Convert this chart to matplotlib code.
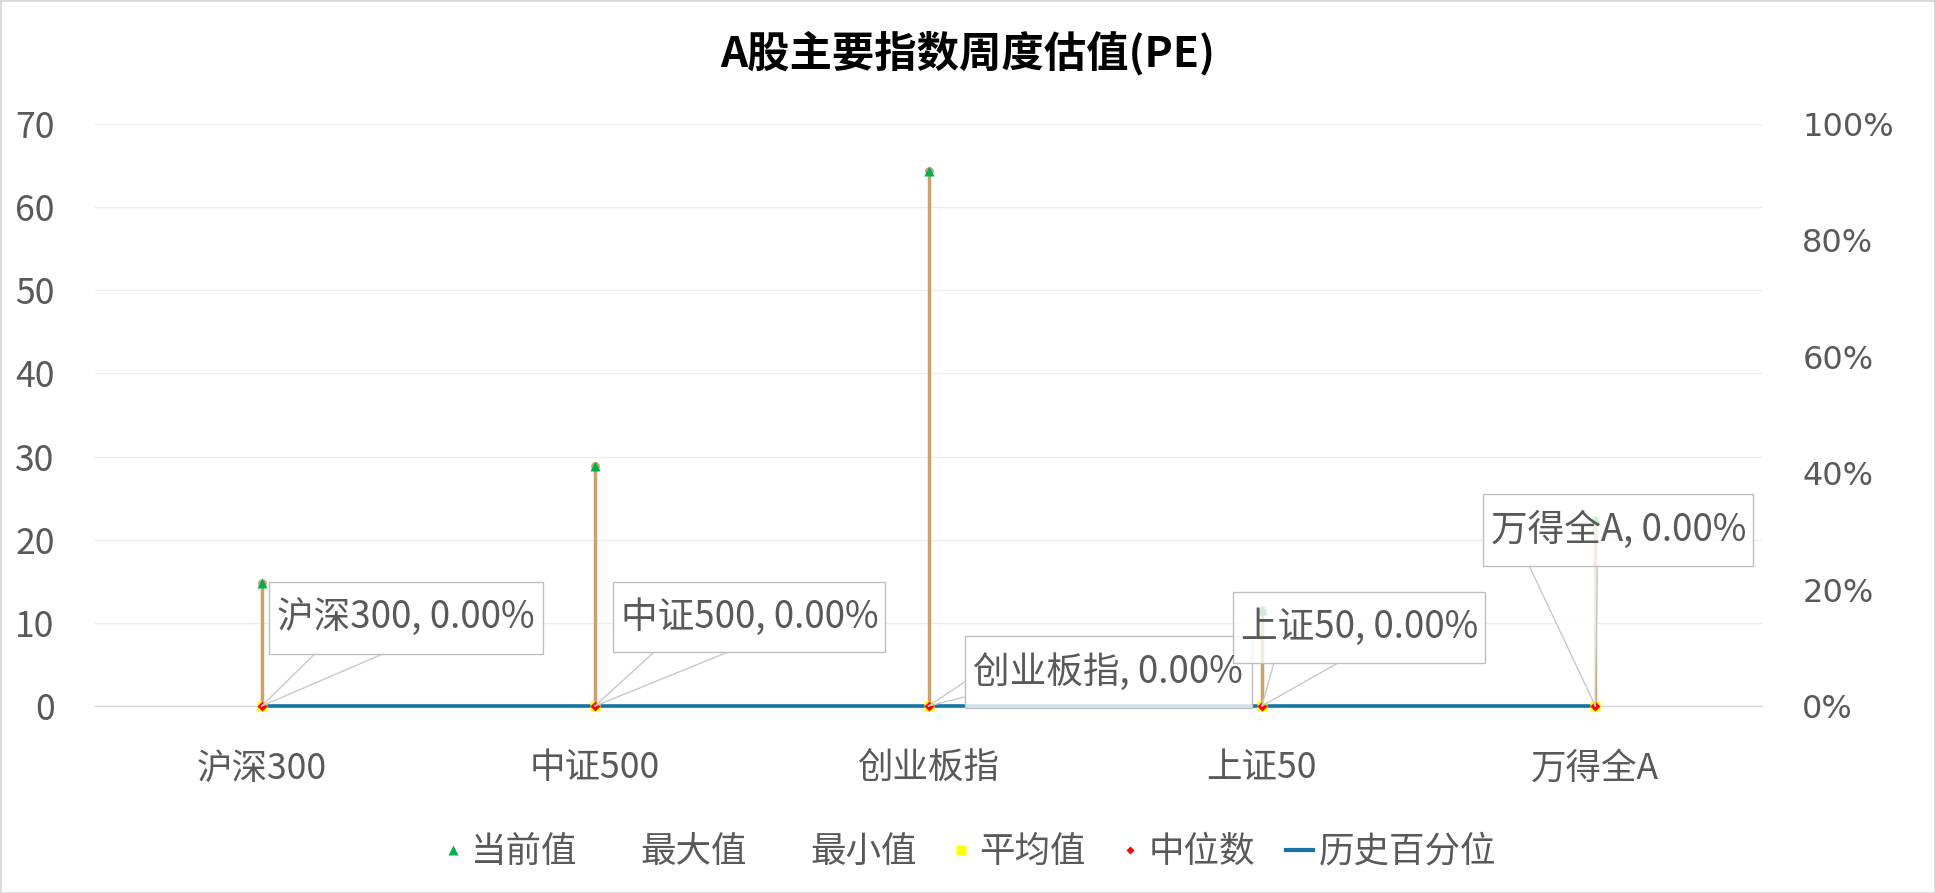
import numpy as np
import matplotlib
matplotlib.use("Agg")
import matplotlib.pyplot as plt
import matplotlib.transforms as mtransforms
from matplotlib.patches import Rectangle, Polygon
from matplotlib.lines import Line2D
from matplotlib.ticker import PercentFormatter

plt.rcParams['font.family'] = ['Noto Sans CJK SC', 'DejaVu Sans']

# ---- data ----
categories = ['沪深300', '中证500', '创业板指', '上证50', '万得全A']
current_pe = [14.8, 28.9, 64.4, 11.6, 22.4]
max_pe = [np.nan, np.nan, np.nan, np.nan, np.nan]
min_pe = [np.nan, np.nan, np.nan, np.nan, np.nan]
mean_pe = [0, 0, 0, 0, 0]
median_pe = [0, 0, 0, 0, 0]
hist_pct = [0.0, 0.0, 0.0, 0.0, 0.0]
left_ticks = [0, 10, 20, 30, 40, 50, 60, 70]
right_ticks = [0, 0.2, 0.4, 0.6, 0.8, 1.0]
title = 'A股主要指数周度估值(PE)'
series_names = ['当前值', '最大值', '最小值', '平均值', '中位数', '历史百分位']

# ---- style ----
TAN = '#C8A36A'
GREEN = '#00B050'
YELLOW = '#FFFF00'
RED = '#FF0000'
BLUE = '#1474A4'
TXT = '#595959'
FS = 25.6

W, H = 1935, 893
fig = plt.figure(figsize=(W / 100, H / 100), dpi=100)
ax = fig.add_axes([95 / W, (H - 706) / H, (1762 - 95) / W, (706 - 124) / H])
ax2 = ax.twinx()
ax.set_zorder(ax2.get_zorder() + 1)
ax.patch.set_visible(False)

x = np.arange(len(categories))
ax.set_xlim(-0.5, len(categories) - 0.5)
ax.set_ylim(0, 70)
ax2.set_ylim(0, 1)
ax.set_yticks(left_ticks)
ax2.set_yticks(right_ticks)
ax2.yaxis.set_major_formatter(PercentFormatter(1.0, decimals=0))
ax.set_xticks(x)
ax.set_xticklabels(categories)

ax.yaxis.grid(True, color='#EDEDED', lw=1)
ax.set_axisbelow(True)
for s in ax.spines.values():
    s.set_visible(False)
for s in ax2.spines.values():
    s.set_visible(False)
ax.spines['bottom'].set_visible(True)
ax.spines['bottom'].set_color('#D9D9D9')
ax.spines['bottom'].set_linewidth(1)

ax.tick_params(axis='y', length=0, pad=29, labelsize=FS, labelcolor=TXT)
ax.tick_params(axis='x', length=0, pad=32, labelsize=FS, labelcolor=TXT)
ax2.tick_params(axis='y', length=0, pad=29, labelsize=23, labelcolor=TXT)
for lab in ax2.get_yticklabels():
    lab.set_fontfamily('DejaVu Sans')

# percentile line (secondary-axis scale, drawn above the axis line)
ax.plot(x, hist_pct, color=BLUE, lw=2.6, zorder=4, solid_capstyle='butt',
        transform=ax2.transData, clip_on=False)

# high-low lines
all_series = np.array([current_pe, max_pe, min_pe, mean_pe, median_pe], dtype=float)
lo = np.nanmin(all_series, axis=0)
hi = np.nanmax(all_series, axis=0)
vl = ax.vlines(x, lo, hi, color=TAN, lw=2.5, zorder=3)
vl.set_capstyle('round')
ax.plot(x, hi, ls='none', marker='o', ms=6.3, color=TAN, mec='none', zorder=3)

# series markers
ax.plot(x, current_pe, ls='none', marker='^', ms=7, color=GREEN, mec='none', zorder=5)
ax.plot(x, max_pe, ls='none', marker='none', zorder=5)
ax.plot(x, min_pe, ls='none', marker='none', zorder=5)
ax.plot(x, mean_pe, ls='none', marker='s', ms=6.5, color=YELLOW, mec='none', zorder=5, clip_on=False)
ax.plot(x, median_pe, ls='none', marker='D', ms=4.8, color=RED, mec='none', zorder=6, clip_on=False)

# callout labels for percentile series (offsets in px from the point, y up)
callouts = [
    ((7, 281, 52, 124), [(53, 52), (121, 52)]),
    ((18, 290, 54, 124), [(59, 54), (133, 54)]),
    ((36, 323, -2, 70), [(36, 24), (36, 9)]),
    ((-29, 223, 43, 114), [(12, 43), (76, 43)]),
    ((-112, 158, 140, 212), [(-66, 140), (2, 140)]),
]
for i, ((x0, x1, y0, y1), bases) in enumerate(callouts):
    tr = mtransforms.Affine2D().scale(fig.dpi / 100) + \
        mtransforms.ScaledTranslation(x[i], hist_pct[i], ax2.transData)
    wedge = Polygon([bases[0], (0, 0), bases[1]], closed=True, transform=tr,
                    fc=(1, 1, 1, 0.8), ec='none', zorder=9, clip_on=False)
    ax.add_artist(wedge)
    for b in bases:
        ax.add_artist(Line2D([0, b[0]], [0, b[1]], transform=tr, color='#C8C8C8',
                             lw=1, zorder=9.5, clip_on=False))
    rect = Rectangle((x0, y0), x1 - x0, y1 - y0, transform=tr, fc=(1, 1, 1, 0.8),
                     ec='#BFBFBF', lw=1, zorder=10, clip_on=False)
    ax.add_artist(rect)
    ax.text(x0 + 8, (y0 + y1) / 2, f'{categories[i]}, {hist_pct[i]:.2%}', transform=tr,
            ha='left', va='center', fontsize=26.4, color=TXT, zorder=11, clip_on=False)

# title
fig.text(0.5, 1 - 53 / H, title, ha='center', va='center', fontsize=30.5,
         fontweight='bold', color='black')

# legend
handles = [
    Line2D([], [], ls='none', marker='^', ms=6.5, color=GREEN, mec='none'),
    Line2D([], [], ls='none', marker='none'),
    Line2D([], [], ls='none', marker='none'),
    Line2D([], [], ls='none', marker='s', ms=6.5, color=YELLOW, mec='none'),
    Line2D([], [], ls='none', marker='D', ms=4.5, color=RED, mec='none'),
    Line2D([], [], color=BLUE, lw=3),
]
fig.legend(handles, series_names, loc='center', bbox_to_anchor=(0.5, 1 - 852 / H),
           ncol=6, frameon=False, fontsize=FS, labelcolor=TXT, handlelength=0.75,
           handletextpad=0.15, columnspacing=0.87, borderpad=0)

# figure border
fig.patches.append(Rectangle((0, 0), 1, 1, transform=fig.transFigure, fill=False,
                             ec='#D9D9D9', lw=2))

fig.savefig('out.png', dpi=100)
